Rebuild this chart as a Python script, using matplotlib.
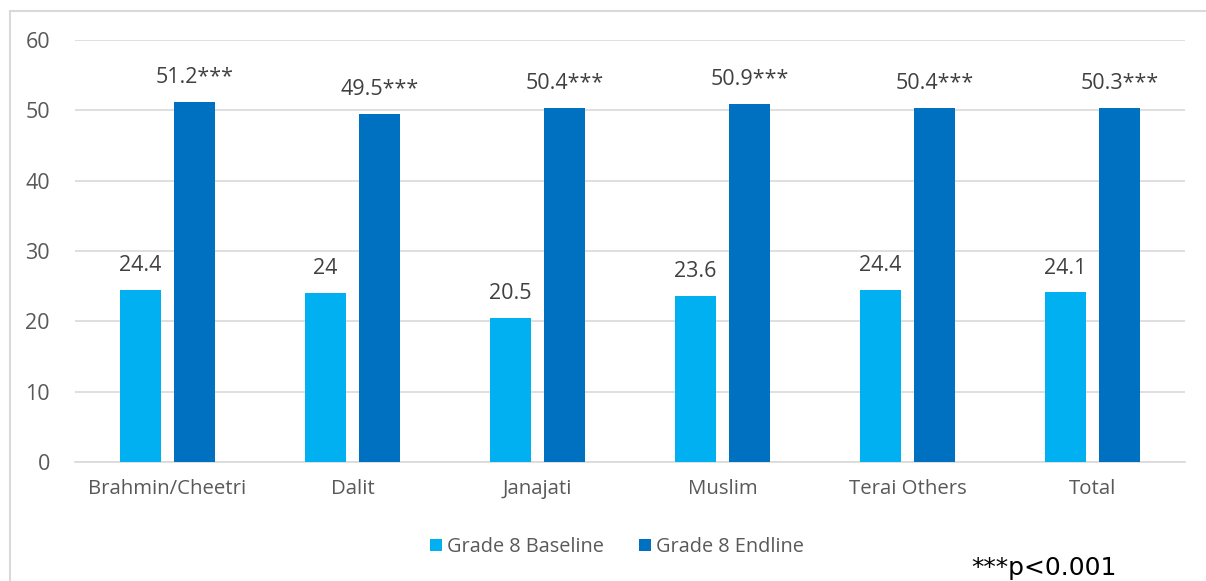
import matplotlib
matplotlib.use("Agg")
import matplotlib.pyplot as plt
import numpy as np
from matplotlib.patches import Rectangle

categories = ["Brahmin/Cheetri", "Dalit", "Janajati", "Muslim", "Terai Others", "Total"]
baseline = [24.4, 24, 20.5, 23.6, 24.4, 24.1]
endline = [51.2, 49.5, 50.4, 50.9, 50.4, 50.3]
baseline_labels = ["24.4", "24", "20.5", "23.6", "24.4", "24.1"]
endline_labels = ["51.2***", "49.5***", "50.4***", "50.9***", "50.4***", "50.3***"]
series_names = ["Grade 8 Baseline", "Grade 8 Endline"]
yticks = [0, 10, 20, 30, 40, 50, 60]

W, H = 1206, 581
fig = plt.figure(figsize=(W / 100, H / 100), dpi=100)
plt.rcParams['font.family'] = ['Open Sans', 'DejaVu Sans']

# outer chart border
fig.patches.append(Rectangle((10 / W, -0.1), 1.2, 1 - 11 / H + 0.1, transform=fig.transFigure,
                             fill=False, edgecolor="#D9D9D9", linewidth=1.5))

ax = fig.add_axes([75 / W, 1 - 462 / H, (1185 - 75) / W, (462 - 40) / H])
x = np.arange(len(categories))
bw = 0.222
off = 0.145
c1, c2 = "#00B0F0", "#0070C0"
b1 = ax.bar(x - off, baseline, bw, color=c1, label=series_names[0], zorder=3)
b2 = ax.bar(x + off, endline, bw, color=c2, label=series_names[1], zorder=3)

txtc = "#404040"
for xi, v, l in zip(x - off, baseline, baseline_labels):
    ax.annotate(l, (xi, v), xytext=(0, 10), textcoords="offset points", ha="center", va="bottom",
                fontsize=15.5, color=txtc)
for xi, v, l in zip(x + off, endline, endline_labels):
    ax.annotate(l, (xi, v), xytext=(0, 10), textcoords="offset points", ha="center", va="bottom",
                fontsize=15.5, color=txtc)

ax.set_xlim(-0.5, len(categories) - 0.5)
ax.set_ylim(0, 60)
ax.set_yticks(yticks)
ax.set_xticks(x)
ax.set_xticklabels(categories)
ax.tick_params(axis="both", length=0, labelsize=14.7, labelcolor="#595959")
ax.tick_params(axis="x", pad=12)
ax.tick_params(axis="y", pad=18)
for lab in ax.get_yticklabels():
    lab.set_fontsize(15.5)
ax.grid(axis="y", color="#D9D9D9", linewidth=1.2, zorder=0)
for s in ["top", "right", "left"]:
    ax.spines[s].set_visible(False)
ax.spines["bottom"].set_color("#D9D9D9")
ax.spines["bottom"].set_linewidth(1.2)

leg = fig.legend(handles=[b1, b2], labels=series_names, loc="center", bbox_to_anchor=(617 / W, 1 - 547 / H),
                 ncol=2, frameon=False, fontsize=14.3, handlelength=0.6, handleheight=0.6,
                 columnspacing=1.8, handletextpad=0.25)
for t in leg.get_texts():
    t.set_color("#595959")

fig.text(1044 / W, 1 - 568 / H, "***p<0.001", ha="center", va="center", fontsize=18,
         color="#000000", family=["DejaVu Sans"])

fig.savefig("out.png", dpi=100)
